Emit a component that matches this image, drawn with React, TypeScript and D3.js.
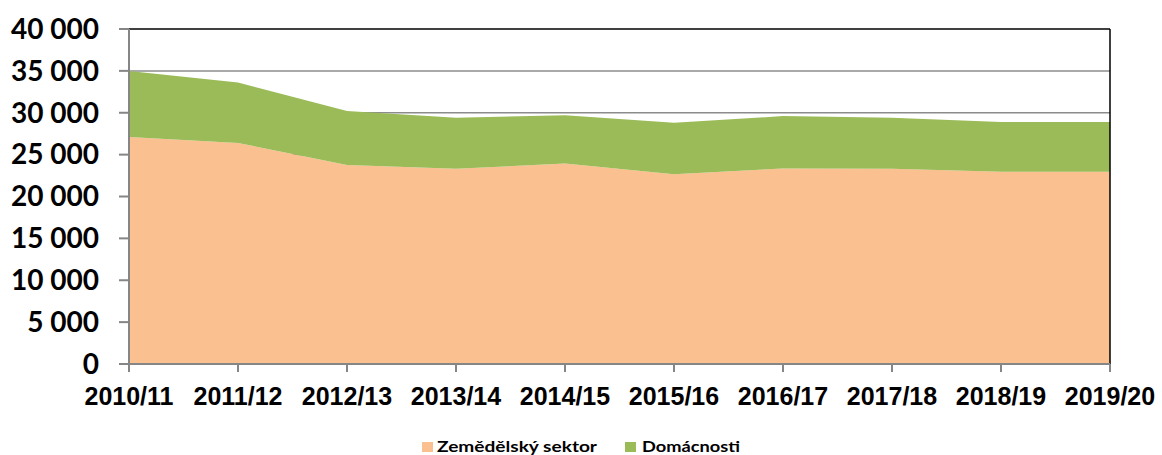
import { useMemo } from "react";
import * as d3 from "d3";

const seasons = ["2010/11", "2011/12", "2012/13", "2013/14", "2014/15", "2015/16", "2016/17", "2017/18", "2018/19", "2019/20"];
const zemedelsky = [27100, 26400, 23750, 23300, 23950, 22650, 23350, 23300, 22950, 22950];
const domacnosti = [7900, 7200, 6450, 6100, 5750, 6150, 6250, 6100, 5950, 5950];
const seriesNames = ["Zemědělský sektor", "Domácnosti"];
const seriesColors = ["#FAC090", "#9BBB59"];
const yTicks = [0, 5000, 10000, 15000, 20000, 25000, 30000, 35000, 40000];

const W = 1162;
const H = 455;
const plot = { left: 129, right: 1110, top: 29, bottom: 364 };

const fmt = d3.formatLocale({ decimal: ",", thousands: " ", grouping: [3], currency: ["", ""] }).format(",d");

export default function App() {
  const x = d3.scalePoint<string>().domain(seasons).range([plot.left, plot.right]);
  const y = d3.scaleLinear().domain([0, 40000]).range([plot.bottom, plot.top]);

  const layers = useMemo(() => {
    const rows = seasons.map((s, i) => ({ season: s, zem: zemedelsky[i], dom: domacnosti[i] }));
    return d3.stack<any>().keys(["zem", "dom"])(rows);
  }, []);

  const area = d3.area<any>()
    .x((d) => x(d.data.season)!)
    .y0((d) => y(d[0]))
    .y1((d) => y(d[1]));

  return (
    <div style={{ position: "absolute", left: 0, top: 0 }}>
      <svg width={W} height={H} style={{ display: "block", background: "#fff" }}>
        {/* gridlines */}
        {yTicks.slice(1, -1).map((t) => (
          <line key={t} x1={plot.left} x2={plot.right} y1={y(t)} y2={y(t)} stroke="#8C8C8C" strokeWidth={1.5} />
        ))}
        {/* stacked areas */}
        {layers.map((l, i) => (
          <path key={i} d={area(l as any)!} fill={seriesColors[i]} />
        ))}
        {/* plot border top / right */}
        <line x1={plot.left} x2={plot.right} y1={plot.top} y2={plot.top} stroke="#000" strokeWidth={1.5} />
        <line x1={plot.right} x2={plot.right} y1={plot.top} y2={plot.bottom} stroke="#000" strokeWidth={1.5} />
        {/* y axis */}
        <line x1={plot.left} x2={plot.left} y1={plot.top} y2={plot.bottom} stroke="#868686" strokeWidth={2} />
        {yTicks.map((t) => (
          <g key={t}>
            <line x1={plot.left - 10} x2={plot.left} y1={y(t)} y2={y(t)} stroke="#868686" strokeWidth={2} />
            <text x={99} y={y(t)} dy="0.35em" textAnchor="end"
              style={{ font: "bold 28px Lato, 'Liberation Sans', sans-serif", fill: "#000" }}>{fmt(t)}</text>
          </g>
        ))}
        {/* x axis */}
        <line x1={plot.left} x2={plot.right} y1={plot.bottom} y2={plot.bottom} stroke="#868686" strokeWidth={2} />
        {seasons.map((s) => (
          <g key={s}>
            <line x1={x(s)} x2={x(s)} y1={plot.bottom} y2={plot.bottom + 8} stroke="#868686" strokeWidth={2} />
            <text x={x(s)} y={405} textAnchor="middle"
              style={{ font: "bold 25px 'Liberation Sans', Arial, sans-serif", fill: "#000" }}>{s}</text>
          </g>
        ))}
        {/* legend */}
        <rect x={422} y={442} width={11} height={10} fill={seriesColors[0]} />
        <text x={437} y={452} textLength={160} lengthAdjust="spacingAndGlyphs"
          style={{ font: "bold 16px Lato, 'Open Sans', sans-serif", fill: "#000" }}>{seriesNames[0]}</text>
        <rect x={625} y={442} width={11} height={10} fill={seriesColors[1]} />
        <text x={642} y={452} textLength={98} lengthAdjust="spacingAndGlyphs"
          style={{ font: "bold 16px Lato, 'Open Sans', sans-serif", fill: "#000" }}>{seriesNames[1]}</text>
      </svg>
    </div>
  );
}
